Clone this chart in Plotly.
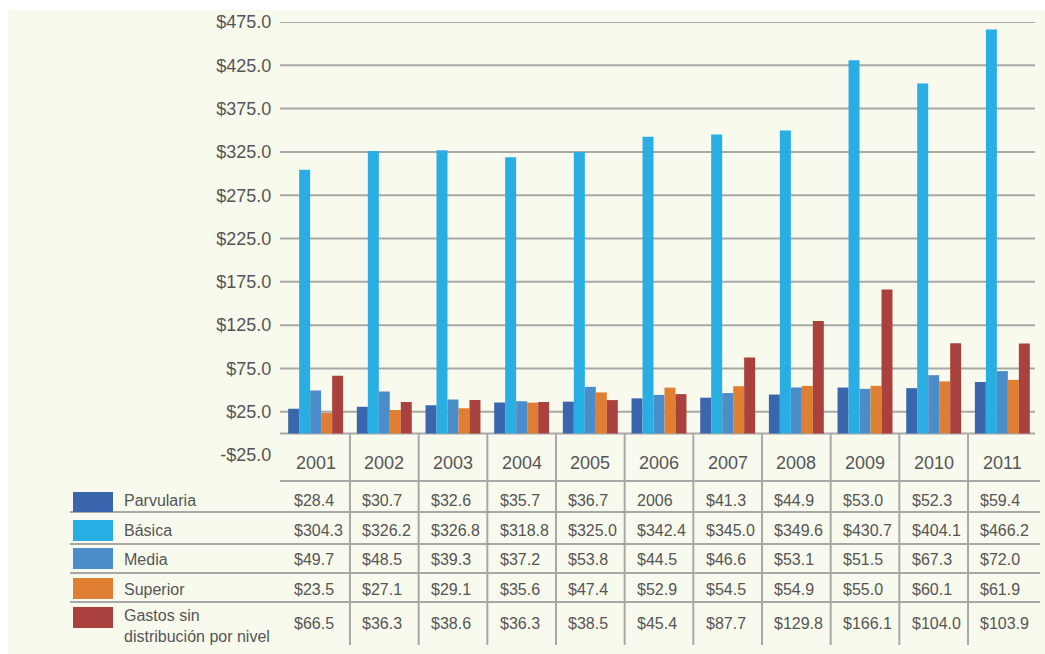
import plotly.graph_objects as go

W, H = 1045, 654

years = ["2001", "2002", "2003", "2004", "2005", "2006", "2007", "2008", "2009", "2010", "2011"]
series_names = ["Parvularia", "Básica", "Media", "Superior", "Gastos sin<br>distribución por nivel"]
parvularia = [28.4, 30.7, 32.6, 35.7, 36.7, 40.5, 41.3, 44.9, 53.0, 52.3, 59.4]
basica = [304.3, 326.2, 326.8, 318.8, 325.0, 342.4, 345.0, 349.6, 430.7, 404.1, 466.2]
media = [49.7, 48.5, 39.3, 37.2, 53.8, 44.5, 46.6, 53.1, 51.5, 67.3, 72.0]
superior = [23.5, 27.1, 29.1, 35.6, 47.4, 52.9, 54.5, 54.9, 55.0, 60.1, 61.9]
gastos = [66.5, 36.3, 38.6, 36.3, 38.5, 45.4, 87.7, 129.8, 166.1, 104.0, 103.9]
# table cell text overrides as printed in the original table
cell_overrides = {(0, 5): "2006"}
tick_values = [-25, 25, 75, 125, 175, 225, 275, 325, 375, 425, 475]

series = [parvularia, basica, media, superior, gastos]
colors = ["#3a66ae", "#29aee4", "#4a8dc8", "#e07f33", "#a9423e"]

TEXT = "#555555"
LINE = "#a8a8a8"
FONT = "Liberation Sans, Arial, sans-serif"


def fx(px):
    return px / W


def fy(py):
    return 1 - py / H


def money(v):
    return ("-$" if v < 0 else "$") + f"{abs(v):.1f}"


fig = go.Figure()
for name, vals, col in zip(series_names, series, colors):
    fig.add_trace(go.Bar(x=years, y=vals, name=name, marker=dict(color=col, line=dict(width=0)),
                         showlegend=False))

shapes = []
# cream background panel
shapes.append(dict(type="rect", xref="paper", yref="paper", x0=fx(8), x1=1, y0=0, y1=fy(10),
                   fillcolor="#f9faee", line=dict(width=0), layer="below"))
# gridlines (positive ticks) and baseline
for v in [t for t in tick_values if t > 0] + [0]:
    shapes.append(dict(type="line", xref="paper", yref="y", x0=fx(280), x1=fx(1035), y0=v, y1=v,
                       line=dict(color=LINE, width=2), layer="below"))

# table horizontal lines
shapes.append(dict(type="line", xref="paper", yref="paper", x0=fx(280), x1=fx(1040), y0=fy(481), y1=fy(481),
                   line=dict(color=LINE, width=2)))
for py in [512, 544, 573, 602]:
    shapes.append(dict(type="line", xref="paper", yref="paper", x0=fx(70), x1=fx(1040), y0=fy(py), y1=fy(py),
                       line=dict(color=LINE, width=2)))
# table vertical separators (between category indices)
for i in range(len(years) - 1):
    shapes.append(dict(type="line", xref="x", yref="paper", x0=i + 0.5, x1=i + 0.5, y0=fy(434), y1=fy(645),
                       line=dict(color=LINE, width=2)))

# legend swatches
sw_rows = [(492, 512), (520, 541), (548, 569), (578, 599), (607, 628)]
for (y0, y1), col in zip(sw_rows, colors):
    shapes.append(dict(type="rect", xref="paper", yref="paper", x0=fx(73), x1=fx(113), y0=fy(y1), y1=fy(y0),
                       fillcolor=col, line=dict(width=0)))

annotations = []
# year header row (category index positions)
for c, yr in enumerate(years):
    annotations.append(dict(x=c, xref="x", y=fy(463), yref="paper", text=yr, showarrow=False,
                            xanchor="center", yanchor="middle", font=dict(family=FONT, size=18, color=TEXT)))

row_centers = [500, 530, 559, 589, 623]
label_centers = [500, 530, 559, 589, 626]
for r, (name, vals) in enumerate(zip(series_names, series)):
    annotations.append(dict(x=fx(122), xref="paper", y=fy(label_centers[r]), yref="paper", text=name,
                            showarrow=False, xanchor="left", yanchor="middle", align="left",
                            font=dict(family=FONT, size=16, color=TEXT)))
    for c, v in enumerate(vals):
        txt = cell_overrides.get((r, c), money(v))
        annotations.append(dict(x=c, xref="x", y=fy(row_centers[r]), yref="paper", text=txt,
                                showarrow=False, xanchor="left", xshift=-24, yanchor="middle",
                                font=dict(family=FONT, size=16, color=TEXT)))

fig.update_layout(
    width=W, height=H,
    margin=dict(l=0, r=0, t=0, b=0),
    paper_bgcolor="white",
    plot_bgcolor="rgba(0,0,0,0)",
    barmode="group", bargap=0.2, bargroupgap=0,
    hovermode=False,
    xaxis=dict(domain=[fx(281.3), fx(1036.7)], type="category", range=[-0.5, len(years) - 0.5],
               showticklabels=False, showgrid=False, zeroline=False, showline=False),
    yaxis=dict(domain=[fy(455.1), fy(22)], range=[-25, 475], tickvals=tick_values,
               ticktext=[money(t) for t in tick_values], showgrid=False, zeroline=False,
               showline=False, ticks="", ticklabelstandoff=9, automargin=False,
               tickfont=dict(family=FONT, size=18, color=TEXT)),
    shapes=shapes,
    annotations=annotations,
)

fig.write_html("out.html", config={"displayModeBar": False},
               post_script="document.body.style.margin='0';")
